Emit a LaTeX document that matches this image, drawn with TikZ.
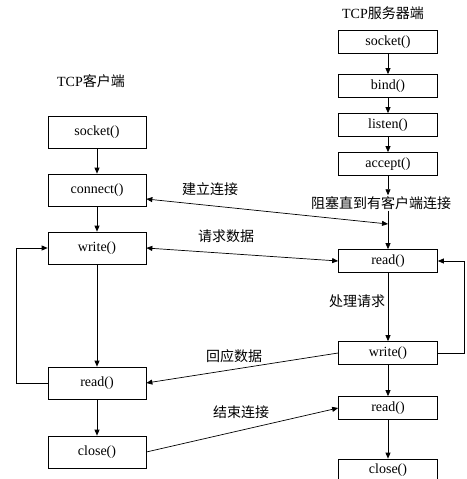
\documentclass[tikz,border=0pt]{standalone}
\usepackage{fontspec}
\setmainfont{Liberation Serif}
\newfontfamily\cjk{Noto Sans CJK SC}
\usetikzlibrary{arrows.meta}
\begin{document}
\begin{tikzpicture}[
    x=1pt, y=-1pt,
    cbox/.style={rectangle, draw, line width=0.7pt, minimum width=98pt,
                 minimum height=32pt, inner sep=0pt, font=\fontsize{14}{16}\selectfont},
    sbox/.style={rectangle, draw, line width=0.7pt, minimum width=99pt,
                 minimum height=23pt, inner sep=0pt, font=\fontsize{14}{16}\selectfont},
    arr/.style={-{Triangle[length=6pt,width=5pt]}, line width=0.7pt},
    darr/.style={{Triangle[length=6pt,width=5pt]}-{Triangle[length=6pt,width=5pt]}, line width=0.7pt},
    lbl/.style={font=\fontsize{14}{16}\selectfont\cjk, inner sep=1pt},
  ]
  \useasboundingbox (0,0) rectangle (466,479);

  % === client (left) ===
  \node[lbl] (ctitle) at (91,81) {\rmfamily TCP\cjk 客户端};

  \node[cbox] (csocket) at (97,132) {socket()};
  \node[cbox] (cconnect) at (97,190) {connect()};
  \node[cbox] (cwrite) at (97,248) {write()};
  \node[cbox] (cread) at (97,383) {read()};
  \node[cbox] (cclose) at (97,452) {close()};

  \draw[arr] (csocket) -- (cconnect);
  \draw[arr] (cconnect) -- (cwrite);
  \draw[arr] (cwrite) -- (cread);
  \draw[arr] (cread) -- (cclose);
  \draw[arr] (cread.west) -- ++(-31,0) |- (cwrite.west);

  % === server (right) ===
  \node[lbl] (stitle) at (383,13) {\rmfamily TCP\cjk 服务器端};

  \node[sbox] (ssocket) at (388,42) {socket()};
  \node[sbox] (sbind) at (388,86) {bind()};
  \node[sbox] (slisten) at (388,125) {listen()};
  \node[sbox] (saccept) at (388,164) {accept()};
  \node[lbl] (swait) at (381,203) {阻塞直到有客户端连接};
  \node[sbox] (sread) at (388,261) {read()};
  \node[lbl] (sproc) at (357,301) {处理请求};
  \node[sbox] (swrite) at (388,353) {write()};
  \node[sbox] (sread2) at (388,408) {read()};
  \node[sbox] (sclose) at (388,470.5) {close()};
  \coordinate (sjoin) at (388,224);

  \draw[arr] (ssocket) -- (sbind);
  \draw[arr] (sbind) -- (slisten);
  \draw[arr] (slisten) -- (saccept);
  \draw[arr] (saccept.south) -- (saccept.south |- swait.north);
  \draw[arr] (saccept.south |- swait.south) -- (sread.north);
  \draw[arr] (sread) -- (swrite);
  \draw[arr] (swrite) -- (sread2);
  \draw[arr] (sread2) -- (sclose);
  \draw[arr] (swrite.east) -- ++(26,0) |- (sread.east);

  % Exchanges between the two sides
  \draw[darr] ([yshift=-9pt]cconnect.east) -- (sjoin);
  \draw[darr] (cwrite.east) -- (sread.west);
  \draw[arr] (swrite.west) -- (cread.east);
  \draw[arr] (cclose.east) -- (sread2.west);

  \node[lbl] (lconn) at (210,189) {建立连接};
  \node[lbl] (lreq) at (226,236) {请求数据};
  \node[lbl] (lresp) at (234,356) {回应数据};
  \node[lbl] (lend) at (241,412) {结束连接};

\end{tikzpicture}
\end{document}
